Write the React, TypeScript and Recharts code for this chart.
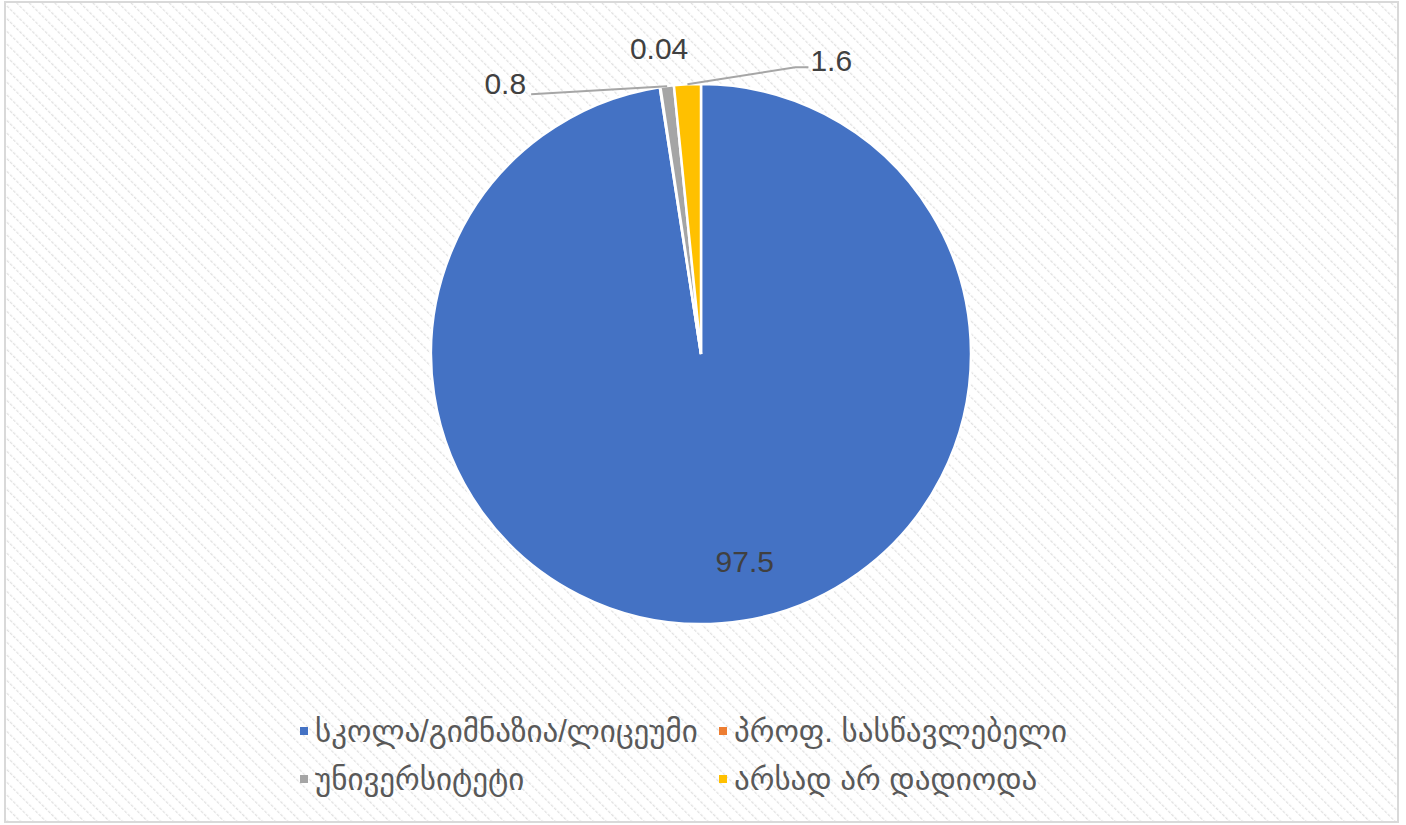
import React from 'react';
import { PieChart, Pie, Cell, Legend } from 'recharts';

const categories = [
  'სკოლა/გიმნაზია/ლიცეუმი',
  'პროფ. სასწავლებელი',
  'უნივერსიტეტი',
  'არსად არ დადიოდა',
];
const values = [97.5, 0.04, 0.8, 1.6];
const colors = ['#4472C4', '#ED7D31', '#A5A5A5', '#FFC000'];

const data = categories.map((name, i) => ({ name, value: values[i] }));

const RAD = Math.PI / 180;
const FONT = '"Liberation Sans", "DejaVu Sans", Arial, sans-serif';

const renderLabel = (props: any) => {
  const { cx, cy, midAngle, outerRadius, index, value } = props;
  const cos = Math.cos(-midAngle * RAD);
  const sin = Math.sin(-midAngle * RAD);
  const common = { fill: '#404040', fontSize: 30, fontFamily: FONT, dominantBaseline: 'central' as const };

  if (index === 0) {
    const r = outerRadius * 0.76;
    return (
      <text x={cx + r * cos + 28} y={cy + r * sin + 3} textAnchor="middle" {...common}>
        {value}
      </text>
    );
  }
  const ex = cx + outerRadius * cos;
  const ey = cy + outerRadius * sin;
  if (index === 1) {
    return (
      <text x={ex - 1} y={ey - 39} textAnchor="middle" {...common}>
        {value}
      </text>
    );
  }
  if (index === 2) {
    return (
      <g>
        <polyline points={`${ex},${ey} ${ex - 136},${ey + 8}`} stroke="#A6A6A6" strokeWidth={2} fill="none" />
        <text x={ex - 141} y={ey - 3} textAnchor="end" {...common}>
          {value}
        </text>
      </g>
    );
  }
  return (
    <g>
      <polyline
        points={`${ex},${ey} ${ex + 108},${ey - 17} ${ex + 121},${ey - 17}`}
        stroke="#A6A6A6"
        strokeWidth={2}
        fill="none"
      />
      <text x={ex + 123} y={ey - 24} textAnchor="start" {...common}>
        {value}
      </text>
    </g>
  );
};

const LegendContent = () => (
  <div
    style={{
      display: 'grid',
      gridTemplateColumns: '419px 400px',
      rowGap: 10,
      fontFamily: FONT,
      fontSize: 31,
      color: '#595959',
      marginLeft: 300,
    }}
  >
    {categories.map((c, i) => (
      <div key={c} style={{ display: 'flex', alignItems: 'center', height: 38, whiteSpace: 'nowrap' }}>
        <span style={{ width: 8, height: 8, background: colors[i], marginRight: 7, display: 'inline-block', flexShrink: 0 }} />
        <span>{c}</span>
      </div>
    ))}
  </div>
);

export default function App() {
  return (
    <div style={{ position: 'relative', width: 1406, height: 825 }}>
      <style>{'body{margin:0}'}</style>
      <svg width={1406} height={825} style={{ position: 'absolute', left: 0, top: 0 }}>
        <defs>
          <pattern id="hatch" width={9} height={9} patternUnits="userSpaceOnUse" patternTransform="rotate(-45)">
            <line x1={0} y1={0} x2={0} y2={9} stroke="#E0E0E0" strokeWidth={2.5} strokeDasharray="3 1.5" />
          </pattern>
        </defs>
        <rect x={0} y={0} width={1406} height={825} fill="#fff" />
        <rect x={5} y={2} width={1393} height={820} fill="url(#hatch)" stroke="#D9D9D9" strokeWidth={2} />
      </svg>
      <div style={{ position: 'absolute', left: 0, top: 0 }}>
        <PieChart width={1406} height={825} margin={{ top: 0, right: 0, bottom: 0, left: 0 }}>
          <Pie
            data={data}
            dataKey="value"
            nameKey="name"
            cx={701}
            cy={354}
            outerRadius={270}
            startAngle={90}
            endAngle={-270}
            stroke="#fff"
            strokeWidth={2.5}
            label={renderLabel}
            labelLine={false}
            isAnimationActive={false}
          >
            {data.map((d, i) => (
              <Cell key={d.name} fill={colors[i]} />
            ))}
          </Pie>
          <Legend
            content={<LegendContent />}
            wrapperStyle={{ position: 'absolute', left: 0, top: 712, width: 1406 }}
          />
        </PieChart>
      </div>
    </div>
  );
}
